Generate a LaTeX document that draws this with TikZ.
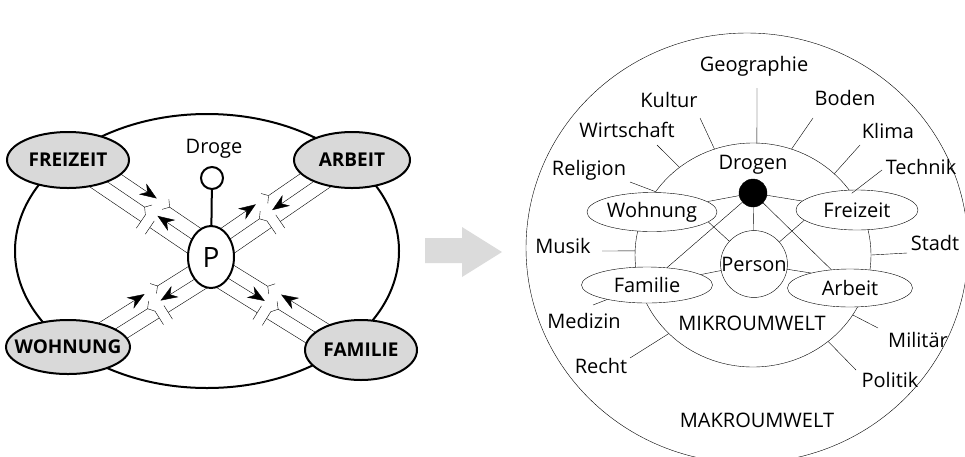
\documentclass[tikz,border=0pt]{standalone}
\usepackage{fontspec}
\setmainfont{Open Sans}
\usetikzlibrary{shapes.geometric,arrows.meta,calc}
\pgfdeclarelayer{background}
\pgfsetlayers{background,main}
\newcommand\dfont{\fontsize{20}{23}\selectfont}
\newcommand\bfont{\fontsize{19}{22}\selectfont\bfseries}
\tikzset{
  oval/.style 2 args={ellipse, draw, fill=white, minimum width=#1, minimum height=#2, inner sep=0pt},
  inA/.style={-{Stealth[length=17pt,width=13pt]}},
  inB/.style={{Straight Barb[reversed,length=5pt,width=12pt]}-},
  outA/.style={-{Straight Barb[reversed,length=5pt,width=12pt]}},
  outB/.style={{Stealth[length=17pt,width=13pt]}-},
  barA/.style={-{Bar[width=16pt]}},
  barB/.style={{Bar[width=16pt]}-}
}
\begin{document}
\begin{tikzpicture}[x=1pt,y=-1pt,line width=2pt,font=\dfont]
  \useasboundingbox (0,0) rectangle (965,456);

  % left: person between the four fields
  \node[draw, ellipse, minimum width=384pt, minimum height=274pt] (env) at (207,251) {};
  \node[oval={122pt}{56pt}, fill=gray!30, label={[font=\bfont]center:FREIZEIT}] (frz) at (68,160) {};
  \node[oval={116pt}{56pt}, fill=gray!30, label={[font=\bfont]center:ARBEIT}] (arb) at (352,160) {};
  \node[oval={124pt}{54pt}, fill=gray!30, label={[font=\bfont]center:WOHNUNG}] (woh) at (68,347) {};
  \node[oval={112pt}{60pt}, fill=gray!30, label={[font=\bfont]center:FAMILIE}] (fam) at (361,350) {};
  \node[oval={46pt}{62pt}, font=\fontsize{28}{30}\selectfont] (p) at (211,257) {P};
  \node[circle, draw, fill=white, minimum size=22pt, inner sep=0pt] (drg) at (212,178) {};
  \node (drglbl) at (214,149) {Droge};
  \draw (drg) -- (p);

  \begin{pgfonlayer}{background}
    \foreach \a/\o/\k in {frz/18pt/in, frz/4pt/out, frz/-10pt/bar,
                          arb/-18pt/out, arb/-4pt/in, arb/10pt/bar,
                          woh/4pt/in, woh/-10pt/out, woh/-24pt/bar,
                          fam/-5pt/in, fam/9pt/out, fam/23pt/bar} {
      \path ($(\a)!\o!90:(p)$) coordinate (s) ($(p)!\o!-90:(\a)$) coordinate (e);
      \draw[\k A] (s) -- ($(s)!0.55!(e)$);
      \draw[\k B] ($(s)!0.61!(e)$) -- (e);
    }
  \end{pgfonlayer}

  % transition arrow
  \fill[gray!28] (425,238) -- (462,238) -- (462,227) -- (502,252) -- (462,277) -- (462,263) -- (425,263) -- cycle;

  % right: micro and macro environment
  \node[oval={442pt}{430pt}, fill=none] (makro) at (747,248) {};
  \node[oval={236pt}{224pt}, fill=none] (mikro) at (753,255) {};
  \node[circle, draw, fill=black, minimum size=28pt, inner sep=0pt] (drogen) at (753,193) {};
  \node (drogenlbl) at (753,165) {Drogen};
  \node[circle, draw, fill=white, minimum size=66pt, inner sep=0pt] (per) at (754,264) {Person};
  \node[oval={130pt}{39pt}, label={center:Wohnung}] (rwoh) at (652,212) {};
  \node[oval={122pt}{40pt}, label={center:Freizeit}] (rfrz) at (857,210) {};
  \node[oval={131pt}{36pt}, label={center:Familie}] (rfam) at (647,285) {};
  \node[oval={125pt}{38pt}, label={center:Arbeit}] (rarb) at (850,288) {};

  \foreach \t in {rwoh, rfrz, per, rfam, rarb}
    \draw (drogen) -- (\t);
  \draw (rwoh.-10) -- (per);
  \draw (rfrz.191) -- (per);
  \draw (rfam.11) -- (per);
  \draw (rarb.159) -- (per);

  \foreach \n/\txt/\lx/\ly/\ex/\ey/\tgt in {
      geo/Geographie/754/66/757/88/mikro.88,
      kul/Kultur/669/100/700/118/mikro.110,
      bod/Boden/845/98/813/118/mikro.70,
      wir/Wirtschaft/627/130/657/145/mikro.130,
      kli/Klima/888/131/860/145/mikro.45,
      rel/Religion/589/170/630/182/mikro.147,
      tec/Technik/921/167/882/170/mikro.32,
      mus/Musik/563/246/602/251/mikro.178,
      sta/Stadt/935/243/907/253/mikro.0,
      med/Medizin/584/321/593/305/rfam.200,
      mil/Militär/918/340/878/328/mikro.329,
      rec/Recht/601/366/630/358/mikro.223,
      pol/Politik/890/380/856/370/mikro.311} {
    \node (\n) at (\lx,\ly) {\txt};
    \coordinate (\n end) at (\ex,\ey);
    \draw (\n end) -- (\tgt);
  }

  \node (mikrolbl) at (752,323) {MIKROUMWELT};
  \node (makrolbl) at (757,420) {MAKROUMWELT};
\end{tikzpicture}
\end{document}
